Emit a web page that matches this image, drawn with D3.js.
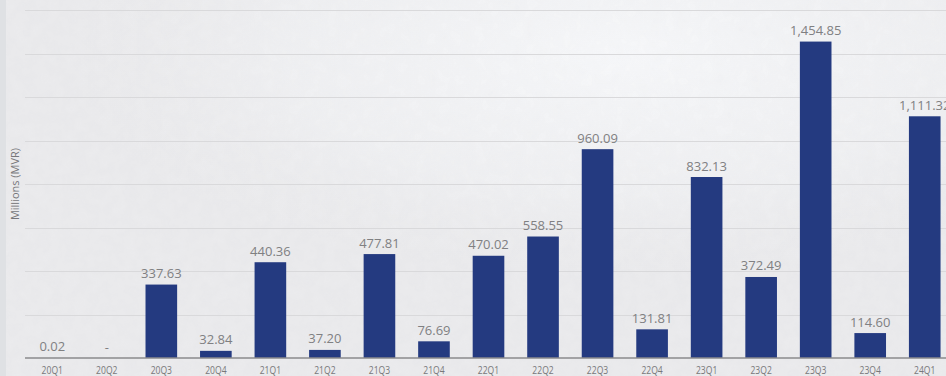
<!DOCTYPE html>
<html>
<head>
<meta charset="utf-8">
<script src="https://cdn.jsdelivr.net/npm/d3@7/dist/d3.min.js"></script>
<style>
  html, body { margin: 0; padding: 0; background: #ececee; overflow: hidden; }
  svg { display: block; }
</style>
</head>
<body>
<svg id="chart" width="946" height="376"></svg>
<script>
// Quarterly values, millions of MVR
const quarters = ["20Q1","20Q2","20Q3","20Q4","21Q1","21Q2","21Q3","21Q4",
                  "22Q1","22Q2","22Q3","22Q4","23Q1","23Q2","23Q3","23Q4","24Q1"];
const values = [0.02, null, 337.63, 32.84, 440.36, 37.20, 477.81, 76.69,
                470.02, 558.55, 960.09, 131.81, 832.13, 372.49, 1454.85, 114.60, 1111.32];
const yTicks = [0, 200, 400, 600, 800, 1000, 1200, 1400, 1600];
const yTitle = "Millions (MVR)";

const W = 946, H = 376;
const plot = { left: 25, right: 952, top: 10, bottom: 358 };

const svg = d3.select("#chart");
const defs = svg.append("defs");

// soft light patch on the paper-like background
const glow = defs.append("radialGradient").attr("id", "glow")
  .attr("cx", 0.66).attr("cy", 0.15).attr("r", 0.6);
glow.append("stop").attr("offset", "0%").attr("stop-color", "#f7f8fa").attr("stop-opacity", 1);
glow.append("stop").attr("offset", "60%").attr("stop-color", "#f3f4f6").attr("stop-opacity", 0.6);
glow.append("stop").attr("offset", "100%").attr("stop-color", "#ececee").attr("stop-opacity", 0);

const grain = defs.append("filter").attr("id", "grain")
  .attr("x", 0).attr("y", 0).attr("width", "100%").attr("height", "100%");
grain.append("feTurbulence").attr("type", "fractalNoise")
  .attr("baseFrequency", 0.08).attr("numOctaves", 3).attr("seed", 4).attr("result", "n");
grain.append("feColorMatrix").attr("type", "matrix")
  .attr("values", "0 0 0 0 0.55  0 0 0 0 0.56  0 0 0 0 0.6  0 0 0 0.09 0");

svg.append("rect").attr("width", W).attr("height", H).attr("fill", "#ebebed");
svg.append("rect").attr("width", W).attr("height", H).attr("fill", "url(#glow)");
svg.append("rect").attr("width", W).attr("height", H).attr("filter", "url(#grain)").attr("opacity", 0.8);
svg.append("rect").attr("x", 0).attr("y", 0).attr("width", 6).attr("height", H).attr("fill", "#dfe1e4");

const x = d3.scaleBand()
  .domain(quarters)
  .range([plot.left, plot.right])
  .paddingInner(0.42)
  .paddingOuter(0.21);

const y = d3.scaleLinear()
  .domain([0, 1600])
  .range([plot.bottom, plot.top]);

// horizontal gridlines
svg.append("g")
  .selectAll("line")
  .data(yTicks.filter(t => t > 0))
  .join("line")
  .attr("x1", plot.left).attr("x2", W)
  .attr("y1", d => Math.round(y(d)) + 0.5).attr("y2", d => Math.round(y(d)) + 0.5)
  .attr("stroke", "#d9d9db").attr("stroke-width", 1);

// bars
svg.append("g")
  .selectAll("rect")
  .data(quarters.map((q, i) => ({ q, v: values[i] })).filter(d => d.v !== null))
  .join("rect")
  .attr("x", d => x(d.q))
  .attr("width", x.bandwidth())
  .attr("y", d => y(d.v))
  .attr("height", d => y(0) - y(d.v))
  .attr("fill", "#243a80");

// baseline axis
const xAxis = d3.axisBottom(x).tickSize(0).tickPadding(0);
const axisG = svg.append("g")
  .attr("transform", `translate(0,${plot.bottom})`)
  .call(xAxis);
axisG.select(".domain").attr("stroke", "#8a8a8c").attr("stroke-width", 1.3)
  .attr("d", `M${plot.left},0H${W}`);
axisG.selectAll(".tick text")
  .attr("fill", "#78787a")
  .attr("font-family", "'Open Sans', sans-serif")
  .attr("font-size", 11)
  .attr("dy", 0)
  .attr("y", 0)
  .attr("transform", "translate(0,15.5) scale(0.78,1)");

// value labels
const fmt = d3.format(",.2f");
svg.append("g")
  .selectAll("text")
  .data(quarters.map((q, i) => ({ q, v: values[i] })))
  .join("text")
  .attr("x", d => x(d.q) + x.bandwidth() / 2)
  .attr("y", d => y(d.v === null ? 0 : d.v) - 6.5)
  .attr("text-anchor", "middle")
  .attr("font-family", "'Open Sans', sans-serif")
  .attr("font-size", 13)
  .attr("fill", "#808082")
  .text(d => d.v === null ? "-" : fmt(d.v));

// y axis title
svg.append("text")
  .attr("transform", "translate(19,184) rotate(-90)")
  .attr("text-anchor", "middle")
  .attr("font-family", "'Open Sans', sans-serif")
  .attr("font-size", 11)
  .attr("fill", "#77777a")
  .text(yTitle);
</script>
</body>
</html>
